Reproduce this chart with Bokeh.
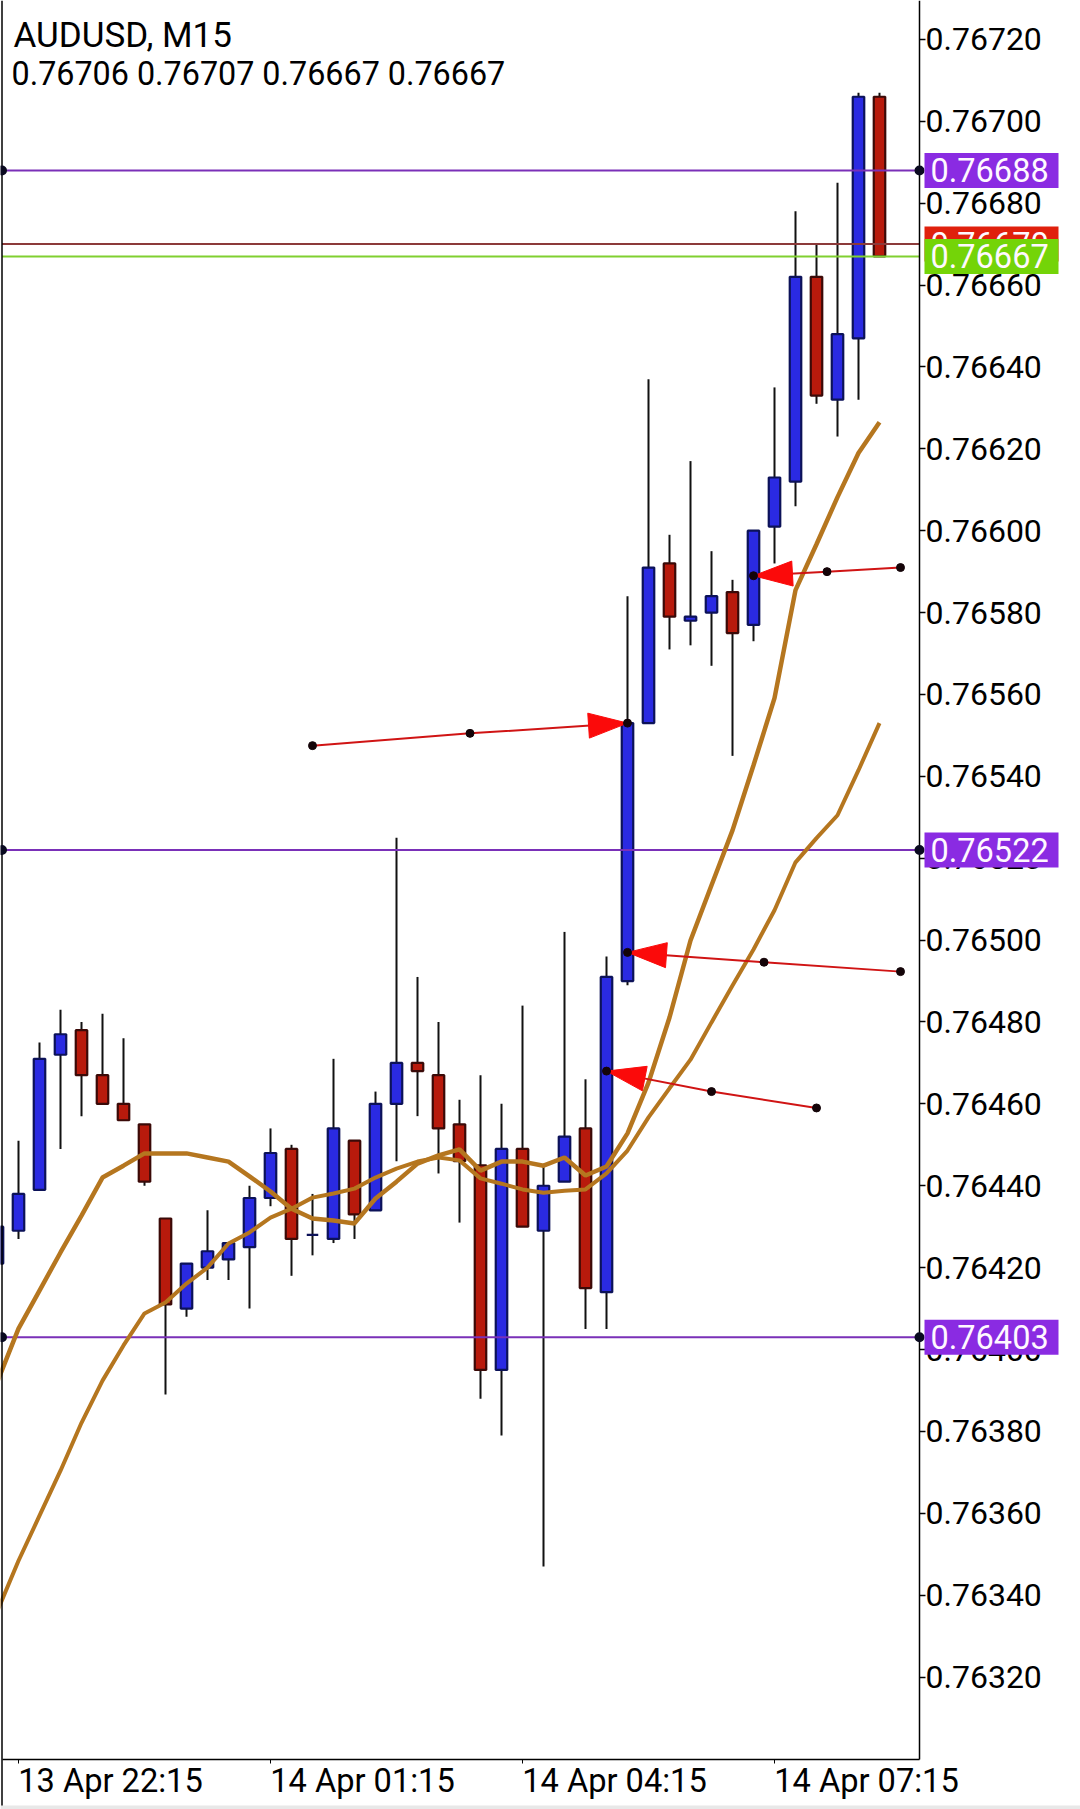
from bokeh.plotting import figure
from bokeh.embed import file_html
from bokeh.resources import INLINE
from bokeh.models import (ColumnDataSource, FixedTicker, LinearAxis, Label, BoxAnnotation,
                          Range1d, Span)

# ---- data ----
bar_index = list(range(-1, 42))
opens = [.76421,.76429,.76439,.76472,.76478,.76467,.76460,.76455,.76432,.76410,.76420,.76422,.76425,.76437,.76449,.76428,
         .76427,.76451,.76434,.76460,.76470,.76467,.76455,.76445,.76395,.76449,.76429,.76441,.76454,.76414,.76490,
         .76553,.76592,.76578,.76580,.76585,.76577,.76601,.76612,.76662,.76632,.76647,.76706]
highs = [.76430,.76451,.76475,.76483,.76480,.76482,.76476,.76455,.76432,.76421,.76434,.76426,.76440,.76454,.76450,.76438,
         .76471,.76451,.76463,.76525,.76491,.76480,.76461,.76467,.76460,.76484,.76445,.76502,.76466,.76496,.76584,
         .76637,.76599,.76617,.76595,.76588,.76600,.76635,.76678,.76670,.76685,.76707,.76707]
lows = [.76421,.76427,.76439,.76449,.76457,.76460,.76456,.76440,.76389,.76408,.76417,.76417,.76410,.76435,.76418,.76423,
        .76426,.76427,.76434,.76446,.76457,.76443,.76431,.76388,.76379,.76430,.76347,.76441,.76405,.76405,.76489,
        .76553,.76571,.76572,.76567,.76545,.76573,.76592,.76606,.76631,.76623,.76632,.76667]
closes = [.76430,.76438,.76471,.76477,.76467,.76460,.76456,.76441,.76411,.76421,.76424,.76426,.76437,.76448,.76427,.76428,
          .76454,.76433,.76460,.76470,.76468,.76454,.76446,.76395,.76449,.76430,.76440,.76452,.76415,.76491,.76553,
          .76591,.76579,.76579,.76584,.76575,.76600,.76613,.76662,.76633,.76648,.76706,.76667]

ma_fast = [.763922,.764051,.764144,.764237,.764327,.76442,.764449,.764479,.764479,.764479,.764469,.764459,.764423,.764386,
           .764344,.76432,.764315,.764308,.764369,.76441,.764454,.764474,.764489,.764437,.764459,.764459,.764449,.764469,
           .764425,.764447,.764528,.764652,.764811,.764999,.765134,.765268,.765427,.765591,.765855,.765967,.766082,.76619,.766265]
ma_slow = [.763362,.763484,.763594,.763704,.763821,.763924,.76401,.764088,.764115,.764161,.7642,.764259,.764286,.764322,
           .764344,.764371,.764381,.764393,.76442,.764442,.764459,.764469,.764462,.764418,.764405,.764391,.764383,.764388,
           .764391,.76443,.764486,.764567,.764638,.764708,.764799,.764889,.764977,.765073,.76519,.765249,.765305,.765415,.76553]

trend_xs = [[14, 21.5, 29], [42, 35.5, 29], [38, 33, 28], [42, 38.5, 35]]
trend_ys = [[.765475, .765505, .76553], [.764923, .764946, .76497], [.76459, .76463, .76468], [.76591, .76590, .76589]]

level_prices = [.76688, .76522, .76403]
bid_price = .76670
ask_price = .76667

y_tick_values = [.7632, .7634, .7636, .7638, .7640, .7642, .7644, .7646, .7648, .7650,
                 .7652, .7654, .7656, .7658, .7660, .7662, .7664, .7666, .7668, .7670, .7672]
y_tick_labels = ["0.76320", "0.76340", "0.76360", "0.76380", "0.76400", "0.76420", "0.76440", "0.76460", "0.76480", "0.76500",
                 "0.76520", "0.76540", "0.76560", "0.76580", "0.76600", "0.76620", "0.76640", "0.76660", "0.76680", "0.76700", "0.76720"]
x_tick_bars = [0, 12, 24, 36]
x_tick_labels = ["13 Apr 22:15", "14 Apr 01:15", "14 Apr 04:15", "14 Apr 07:15"]

title_text = "AUDUSD, M15"
ohlc_text = "0.76706 0.76707 0.76667 0.76667"

# ---- layout ----
W, H = 1080, 1809
F_L, F_R, F_B = 1.5, 919, 1759
PX_BAR = 21.0
PX_PRICE = 409400.0
X0 = 18.0
Y0 = 120.8
def bx_of(px):
    return (px - X0) / PX_BAR
def pr_of(py):
    return .767 - (py - Y0) / PX_PRICE
x_left, x_right = bx_of(F_L), bx_of(F_R)
y_top, y_bottom = pr_of(0), pr_of(F_B)

FONT = "Roboto"
BLUE, BLUE_E = "#2a2ae2", "#0c1258"
RED, RED_E = "#b81a0c", "#3a0a08"
BROWN = "#b5761f"
PURPLE_LINE, PURPLE_TAG = "#7a30b8", "#8a2be2"

p = figure(width=W, height=H, output_backend="svg", toolbar_location=None,
           x_range=Range1d(bx_of(0), bx_of(W)), y_range=Range1d(pr_of(H), pr_of(0)),
           y_axis_location="right", min_border_left=0, min_border_right=0,
           min_border_top=0, min_border_bottom=0,
           background_fill_color="white", border_fill_color="white", outline_line_color=None)
p.grid.visible = False

# axes
ya = p.yaxis[0]
ya.fixed_location = x_right
ya.bounds = (y_bottom, y_top)
ya.ticker = FixedTicker(ticks=y_tick_values)
ya.major_label_overrides = dict(zip(y_tick_values, y_tick_labels))
ya.major_tick_in = 0
ya.major_tick_out = 6
ya.minor_tick_line_color = None
ya.axis_line_color = "black"
ya.axis_line_width = 1.5
ya.major_tick_line_color = "black"
ya.major_tick_line_width = 1.5
ya.major_label_standoff = 0
ya.major_label_text_font = FONT
ya.major_label_text_font_size = "32px"
ya.major_label_text_color = "black"

xa = p.xaxis[0]
xa.fixed_location = y_bottom
xa.bounds = (x_left, x_right)
xa.ticker = FixedTicker(ticks=x_tick_bars)
xa.major_label_overrides = {b: "" for b in x_tick_bars}
xa.major_tick_in = 0
xa.major_tick_out = 4
xa.minor_tick_line_color = None
xa.axis_line_color = "black"
xa.axis_line_width = 1.5
xa.major_tick_line_color = "black"
xa.major_label_text_font_size = "1px"
xa.major_label_standoff = 0

label_pos = [round(b + 4.38, 2) for b in x_tick_bars]
xb = LinearAxis(ticker=FixedTicker(ticks=label_pos), fixed_location=y_bottom,
                major_label_overrides=dict(zip(label_pos, x_tick_labels)),
                major_tick_in=0, major_tick_out=0, minor_tick_line_color=None,
                axis_line_color=None, major_tick_line_color=None,
                major_label_standoff=2, major_label_text_font=FONT,
                major_label_text_font_size="32.6px", major_label_text_color="black")
p.add_layout(xb, "below")

p.add_layout(Span(location=x_left, dimension="height", line_color="black", line_width=1.5))

# candles
src = ColumnDataSource(dict(x=bar_index, o=opens, h=highs, l=lows, c=closes))
up = [c >= o for o, c in zip(opens, closes)]
top = [max(o, c) for o, c in zip(opens, closes)]
bot = [min(o, c) for o, c in zip(opens, closes)]
p.segment("x", "h", "x", "l", source=src, line_color="#111111", line_width=2)
body_w = 11.5 / PX_BAR
for flag, fill, edge in ((True, BLUE, BLUE_E), (False, RED, RED_E)):
    idx = [k for k, u in enumerate(up) if u == flag]
    s = ColumnDataSource(dict(x=[bar_index[k] for k in idx], t=[top[k] for k in idx], b=[bot[k] for k in idx]))
    p.vbar("x", body_w, "t", "b", source=s, fill_color=fill, line_color=edge, line_width=2.2)

# horizontal levels
for price, col in [(bid_price, "#8c3a3a"), (ask_price, "#80d030")] + [(v, PURPLE_LINE) for v in level_prices]:
    p.segment(x_left, price, x_right, price, line_color=col, line_width=2)

# moving averages
p.line(bar_index, ma_slow, line_color=BROWN, line_width=4)
p.line(bar_index, ma_fast, line_color=BROWN, line_width=4.5)

# trend arrows
H_LEN, H_HALF = 39.0, 12.5
for xs, ys in zip(trend_xs, trend_ys):
    p.line(xs, ys, line_color="#d01414", line_width=2)
    dx = (xs[1] - xs[2]) * PX_BAR
    dy = (ys[1] - ys[2]) * PX_PRICE
    n = (dx * dx + dy * dy) ** .5
    ux, uy = dx / n, dy / n
    bx = xs[2] * PX_BAR + ux * H_LEN
    by = ys[2] * PX_PRICE + uy * H_LEN
    p.patch([xs[2], (bx - uy * H_HALF) / PX_BAR, (bx + uy * H_HALF) / PX_BAR],
            [ys[2], (by + ux * H_HALF) / PX_PRICE, (by - ux * H_HALF) / PX_PRICE],
            fill_color="#fb0a0a", line_color="#fb0a0a", line_width=1)
    p.scatter(xs, ys, marker="circle", size=8, fill_color="#140408", line_color="#140408")

# anchor dots on levels
R_DOT = 5
for price in level_prices:
    for cx in (F_L, F_R):
        p.add_layout(BoxAnnotation(left=bx_of(cx - R_DOT), right=bx_of(cx + R_DOT),
                                   top=price + R_DOT / PX_PRICE, bottom=price - R_DOT / PX_PRICE,
                                   border_radius=R_DOT, fill_color="#0a0a20", fill_alpha=1, line_color=None))

# price tags
TAG_HALF = 17.5
for price, col, txt in [(level_prices[0], PURPLE_TAG, "0.76688"), (level_prices[1], PURPLE_TAG, "0.76522"),
                        (level_prices[2], PURPLE_TAG, "0.76403"), (bid_price, "#e0200c", "0.76670"),
                        (ask_price, "#74d408", "0.76667")]:
    p.add_layout(BoxAnnotation(left=bx_of(924), right=bx_of(1058),
                               top=price + TAG_HALF / PX_PRICE, bottom=price - TAG_HALF / PX_PRICE,
                               fill_color=col, fill_alpha=1, line_color=None))
    p.add_layout(Label(x=bx_of(930), y=price, text=txt, text_font=FONT,
                       text_font_size="32.5px", text_color="#fff8ff", text_align="left", text_baseline="middle"))

# header
p.add_layout(Label(x=13, y=35, x_units="canvas", y_units="canvas", text=title_text, text_font=FONT,
                   text_font_size="35px", text_color="black", text_baseline="alphabetic"))
p.add_layout(Label(x=11, y=73, x_units="canvas", y_units="canvas", text=ohlc_text, text_font=FONT,
                   text_font_size="32.3px", text_color="black", text_baseline="alphabetic"))

# grey strip at the foot of the screenshot
p.add_layout(BoxAnnotation(top=pr_of(1805), bottom=pr_of(H), fill_color="#e8e8e8", fill_alpha=1, line_color=None))

open("out.html", "w").write(file_html(p, INLINE))
